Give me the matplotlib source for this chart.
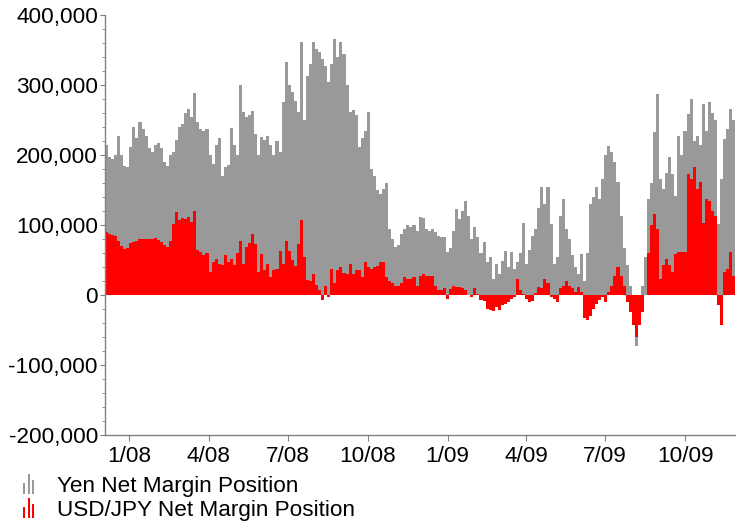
import numpy as np
import pandas as pd
import matplotlib
matplotlib.use("Agg")
import matplotlib.pyplot as plt
import matplotlib.dates as mdates
from matplotlib.ticker import FuncFormatter, MultipleLocator
from matplotlib.legend_handler import HandlerBase
from matplotlib.patches import Rectangle

plt.rcParams['font.family'] = ['Liberation Sans', 'DejaVu Sans']

# half-weekly samples of net margin positions (contracts), Dec 2007 - Nov 2009
start = '2007-12-04'
step_days = 3.5

yen_net = [
    215, 198, 195, 200, 228, 200, 185, 183, 212, 240,
    225, 248, 238, 228, 210, 205, 215, 218, 210, 190,
    185, 200, 205, 222, 240, 245, 260, 266, 255, 289,
    248, 238, 235, 238, 200, 188, 215, 225, 170, 184,
    186, 239, 215, 200, 300, 262, 255, 258, 263, 230,
    200, 226, 222, 228, 215, 200, 220, 205, 276, 333,
    300, 290, 278, 262, 362, 250, 313, 330, 362, 352,
    348, 338, 328, 305, 330, 366, 340, 362, 345, 300,
    262, 265, 258, 212, 225, 235, 262, 180, 170, 150,
    145, 152, 160, 95, 80, 69, 72, 88, 95, 100,
    98, 100, 92, 112, 110, 95, 92, 95, 90, 85,
    84, 84, 62, 67, 92, 124, 109, 120, 135, 114,
    81, 98, 84, 60, 76, 48, 55, 24, 45, 30,
    49, 64, 40, 62, 38, 48, 60, 104, 45, 65,
    85, 95, 125, 155, 130, 155, 102, 45, 55, 114,
    138, 95, 80, 57, 40, 30, 59, 20, 60, 130,
    140, 155, 138, 166, 200, 213, 205, 190, 162, 114,
    67, 43, 14, -40, -72, -30, 14, 55, 138, 160,
    233, 288, 166, 152, 175, 198, 173, 142, 228, 200,
    235, 259, 281, 220, 228, 215, 273, 235, 276, 260,
    250, 102, 166, 223, 238, 266, 250,
]

usdjpy_net = [
    90, 88, 86, 85, 78, 70, 66, 67, 75, 76,
    78, 80, 81, 81, 80, 80, 82, 79, 76, 72,
    69, 78, 102, 119, 108, 110, 109, 112, 105, 121,
    65, 62, 58, 60, 34, 48, 52, 45, 44, 57,
    48, 52, 43, 60, 78, 45, 69, 75, 88, 74,
    34, 59, 36, 45, 26, 36, 38, 64, 45, 78,
    64, 50, 42, 74, 107, 55, 22, 21, 31, 15,
    7, -7, 14, -2, 38, 17, 36, 40, 32, 30,
    45, 31, 36, 36, 26, 48, 40, 38, 40, 42,
    48, 48, 26, 20, 17, 14, 14, 18, 26, 24,
    24, 26, 14, 28, 30, 27, 27, 28, 14, 7,
    7, 10, -5, 9, 14, 12, 12, 10, 7, 0,
    -2, 10, 2, -7, -8, -19, -21, -22, -17, -21,
    -14, -12, -10, -5, -3, 24, 8, 2, -5, -10,
    -8, 4, 12, 10, 24, 17, -2, -5, -10, 10,
    14, 21, 14, 10, 5, 12, 5, -33, -35, -30,
    -19, -12, -7, -2, -10, 5, 14, 28, 40, 28,
    14, -10, -24, -43, -59, -43, -24, 0, 60, 100,
    116, 95, 24, 43, 52, 43, 33, 59, 62, 62,
    62, 173, 166, 183, 152, 162, 104, 138, 135, 120,
    114, -14, -43, 33, 38, 62, 28,
]

series_labels = ['Yen Net Margin Position', 'USD/JPY Net Margin Position']
gray = '#999999'
red = '#ff0000'
axis_gray = '#808080'
fs = 16.2

dates = pd.date_range(start, periods=len(yen_net), freq='84h')
yen = np.array(yen_net) * 1000
usd = np.array(usdjpy_net) * 1000


class MiniBars(HandlerBase):
    """Legend key drawn as three small bars."""
    def create_artists(self, legend, orig_handle, xdescent, ydescent,
                       width, height, fontsize, trans):
        color = orig_handle.get_facecolor()
        fracs = [0.55, 1.0, 0.7]
        bw = width / 5.0
        h = height * 1.3
        arts = []
        for k, f in enumerate(fracs):
            r = Rectangle((-xdescent + k * 2 * bw, -ydescent - 0.15 * height),
                          bw, h * f, facecolor=color, edgecolor='none',
                          transform=trans)
            arts.append(r)
        return arts


fig = plt.figure(figsize=(7.36, 5.23), dpi=100)
ax = fig.add_axes([105 / 736, 1 - 435.3 / 523, 1 - 105 / 736, (435.3 - 15.3) / 523])

ax.bar(dates, yen, width=step_days, align='edge', color=gray, linewidth=0,
       antialiased=False)
ax.bar(dates, usd, width=step_days, align='edge', color=red, linewidth=0,
       antialiased=False)

ax.set_ylim(-200000, 400000)
ax.set_xlim(pd.Timestamp(start), pd.Timestamp(start) + pd.Timedelta(days=725.4))

ax.yaxis.set_major_locator(MultipleLocator(100000))
ax.yaxis.set_minor_locator(MultipleLocator(20000))
ax.yaxis.set_major_formatter(FuncFormatter(lambda v, p: f'{v:,.0f}'))

ax.xaxis.set_major_locator(mdates.MonthLocator(bymonth=[1, 4, 7, 10]))
ax.xaxis.set_major_formatter(
    FuncFormatter(lambda v, p: f'{mdates.num2date(v).month}/{mdates.num2date(v):%y}'))

for side in ('top', 'right'):
    ax.spines[side].set_visible(False)
for side in ('left', 'bottom'):
    ax.spines[side].set_color(axis_gray)
    ax.spines[side].set_linewidth(1.0)

ax.tick_params(axis='both', which='both', colors=axis_gray, labelcolor='black',
               labelsize=fs, direction='out')
ax.tick_params(axis='y', which='major', length=3.6, pad=1.5)
ax.tick_params(axis='y', which='minor', length=2.5)
ax.tick_params(axis='x', which='major', length=4, pad=4)

key_gray = Rectangle((0, 0), 1, 1, facecolor=gray)
key_red = Rectangle((0, 0), 1, 1, facecolor=red)
fig.legend([key_gray, key_red], series_labels,
           handler_map={Rectangle: MiniBars()},
           loc='upper left', bbox_to_anchor=(23 / 736, 1 - 476 / 523),
           frameon=False, fontsize=fs, handlelength=0.5, handleheight=0.7,
           handletextpad=1.0, labelspacing=0.12, borderpad=0, borderaxespad=0)

fig.savefig('out.png', dpi=100)
